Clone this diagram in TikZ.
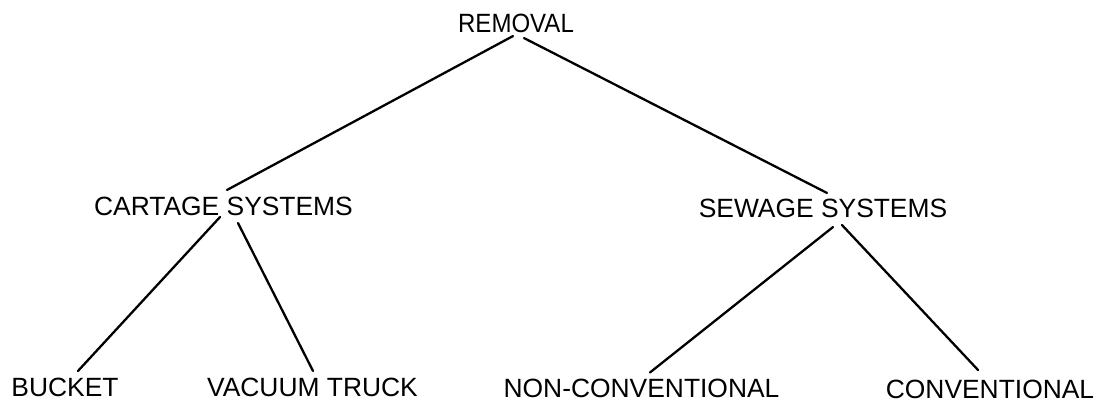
\documentclass[tikz,border=0pt]{standalone}
\usepackage{fontspec}
\setmainfont{Liberation Sans}
\begin{document}
\begin{tikzpicture}[x=1bp,y=-1bp,
  lbl/.style={inner sep=0pt, anchor=center, font=\fontsize{26.5}{30}\selectfont},
  link/.style={line width=2.3bp, line cap=round}]
\useasboundingbox (0,0) rectangle (1102,402);
\node[lbl] (removal) at (516,23) {\scalebox{0.91}[1]{REMOVAL}};
\node[lbl] (cartage) at (223.5,206) {CARTAGE SYSTEMS};
\node[lbl] (sewage) at (823,208) {SEWAGE SYSTEMS};
\node[lbl] (bucket) at (65,387.5) {BUCKET};
\node[lbl] (vacuum) at (312.5,387.5) {VACUUM TRUCK};
\node[lbl] (noncon) at (641.5,388) {NON-CONVENTIONAL};
\node[lbl] (conv) at (990,389) {CONVENTIONAL};
\draw[link] ([xshift=-3bp,yshift=-3.5bp]removal.south) -- ([xshift=3.5bp,yshift=6.5bp]cartage.north);
\draw[link] ([xshift=8bp,yshift=-5.5bp]removal.south) -- ([xshift=4bp,yshift=5.5bp]sewage.north);
\draw[link] ([xshift=-3.5bp,yshift=-1.5bp]cartage.south) -- ([xshift=13bp,yshift=7bp]bucket.north);
\draw[link] ([xshift=14.5bp,yshift=-7.5bp]cartage.south) -- ([xshift=0.5bp,yshift=7bp]vacuum.north);
\draw[link] ([xshift=10bp,yshift=-9.5bp]sewage.south) -- ([xshift=8.5bp,yshift=6bp]noncon.north);
\draw[link] ([xshift=19bp,yshift=-7.5bp]sewage.south) -- ([xshift=-12bp,yshift=9.5bp]conv.north);
\end{tikzpicture}
\end{document}
